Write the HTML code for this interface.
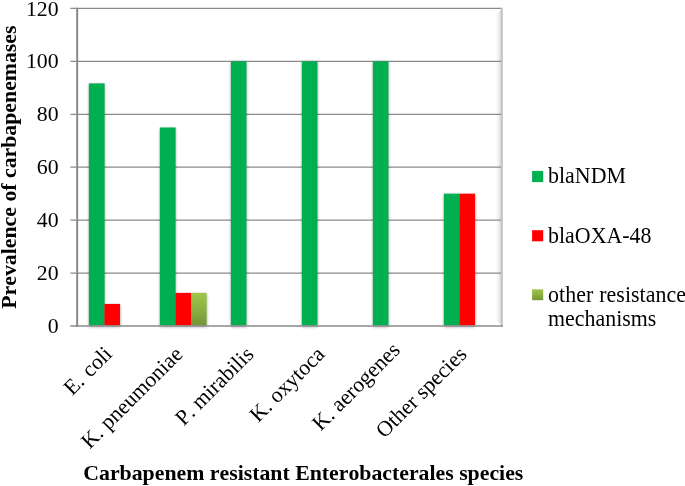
<!DOCTYPE html>
<html><head><meta charset="utf-8"><title>Chart</title>
<style>
html,body{margin:0;padding:0;background:#fff;}
svg{display:block;}
text{font-family:"Liberation Serif","DejaVu Serif",serif;fill:#000;font-kerning:none;}
.t{font-size:21.8px;}
.b{font-size:21.8px;font-weight:bold;}
</style></head><body>
<svg width="685" height="486" viewBox="0 0 685 486">
<defs>
<linearGradient id="og" x1="0" y1="0" x2="0" y2="1"><stop offset="0" stop-color="#9ec64a"/><stop offset="0.5" stop-color="#8cb041"/><stop offset="1" stop-color="#759438"/></linearGradient>
<linearGradient id="rs" x1="0" y1="0" x2="1" y2="0"><stop offset="0" stop-color="#fff" stop-opacity="0"/><stop offset="1" stop-color="#c8c8c8"/></linearGradient>
<filter id="sh" x="-40%" y="-5%" width="180%" height="110%"><feGaussianBlur stdDeviation="1.6"/></filter>
</defs>
<rect width="685" height="486" fill="#fff"/>
<polygon points="502,8.4 494.5,15.4 494.5,319.0 502,326.0" fill="url(#rs)"/>
<g stroke="#8a8a8a" stroke-width="1.3">
<line x1="70.4" y1="8.42" x2="502.4" y2="8.42"/>
<line x1="70.4" y1="61.35" x2="502.4" y2="61.35"/>
<line x1="70.4" y1="114.28" x2="502.4" y2="114.28"/>
<line x1="70.4" y1="167.21" x2="502.4" y2="167.21"/>
<line x1="70.4" y1="220.14" x2="502.4" y2="220.14"/>
<line x1="70.4" y1="273.07" x2="502.4" y2="273.07"/>
</g>
<line x1="501.9" y1="7.9" x2="501.9" y2="326.5" stroke="#c6c6c6" stroke-width="2"/>
<g fill="#000" opacity="0.34" filter="url(#sh)">
<rect x="89.00" y="84.30" width="15.60" height="242.60"/>
<rect x="104.60" y="304.85" width="15.60" height="22.05"/>
<rect x="160.00" y="128.41" width="15.60" height="198.49"/>
<rect x="175.60" y="293.82" width="15.60" height="33.08"/>
<rect x="191.20" y="293.82" width="15.60" height="33.08"/>
<rect x="231.00" y="62.25" width="15.60" height="264.65"/>
<rect x="302.00" y="62.25" width="15.60" height="264.65"/>
<rect x="373.00" y="62.25" width="15.60" height="264.65"/>
<rect x="444.00" y="194.58" width="15.60" height="132.32"/>
<rect x="459.60" y="194.58" width="15.60" height="132.32"/>
</g>
<rect x="88.85" y="83.40" width="15.75" height="242.00" fill="#00b050"/>
<rect x="104.45" y="303.95" width="15.60" height="21.45" fill="#ff0000"/>
<rect x="159.85" y="127.51" width="15.75" height="197.89" fill="#00b050"/>
<rect x="175.45" y="292.92" width="15.75" height="32.48" fill="#ff0000"/>
<rect x="191.05" y="292.92" width="15.60" height="32.48" fill="url(#og)"/>
<rect x="230.85" y="61.35" width="15.60" height="264.05" fill="#00b050"/>
<rect x="301.85" y="61.35" width="15.60" height="264.05" fill="#00b050"/>
<rect x="372.85" y="61.35" width="15.60" height="264.05" fill="#00b050"/>
<rect x="443.85" y="193.68" width="15.75" height="131.72" fill="#00b050"/>
<rect x="459.45" y="193.68" width="15.60" height="131.72" fill="#ff0000"/>
<line x1="77.15" y1="7.7" x2="77.15" y2="326.8" stroke="#8a8a8a" stroke-width="2"/>
<line x1="70.4" y1="325.95" x2="502.9" y2="325.95" stroke="#8a8a8a" stroke-width="1.5"/>
<g class="t" text-anchor="end">
<text x="58.6" y="15.6">120</text>
<text x="58.6" y="68.2">100</text>
<text x="58.6" y="121.1">80</text>
<text x="58.6" y="174.0">60</text>
<text x="58.6" y="226.9">40</text>
<text x="58.6" y="279.9">20</text>
<text x="58.6" y="332.8">0</text>
</g>
<text class="b" transform="translate(15.8,308.7) rotate(-90)" textLength="283.2" lengthAdjust="spacingAndGlyphs">Prevalence of carbapenemases</text>
<g class="t" text-anchor="end">
<text transform="translate(113.4,355.1) rotate(-45)" word-spacing="1.3">E. coli</text>
<text transform="translate(183.9,355.5) rotate(-45)">K. pneumoniae</text>
<text transform="translate(254.9,355.5) rotate(-45)">P. mirabilis</text>
<text transform="translate(325.9,355.5) rotate(-45)">K. oxytoca</text>
<text transform="translate(401.2,351.2) rotate(-45)">K. aerogenes</text>
<text transform="translate(467.9,355.5) rotate(-45)">Other species</text>
</g>
<text class="b" x="83.3" y="479.6" textLength="440" lengthAdjust="spacingAndGlyphs">Carbapenem resistant Enterobacterales species</text>
<rect x="532.1" y="170.9" width="11.1" height="11.2" fill="#00b050"/>
<rect x="532.1" y="230.2" width="11.1" height="11.1" fill="#ff0000"/>
<rect x="532.1" y="289.3" width="11.1" height="10.9" fill="url(#og)"/>
<g class="t" style="font-size:21.9px">
<text transform="translate(548.1,183.4) scale(1,1.05)">blaNDM</text>
<text transform="translate(548.1,242.7) scale(1,1.06)">blaOXA-48</text>
<text transform="translate(548.1,301.6) scale(1,1.09)" word-spacing="0.3" letter-spacing="0.06">other resistance</text>
<text transform="translate(548.1,326.4) scale(1,1.05)">mechanisms</text>
</g>
</svg>
</body></html>
